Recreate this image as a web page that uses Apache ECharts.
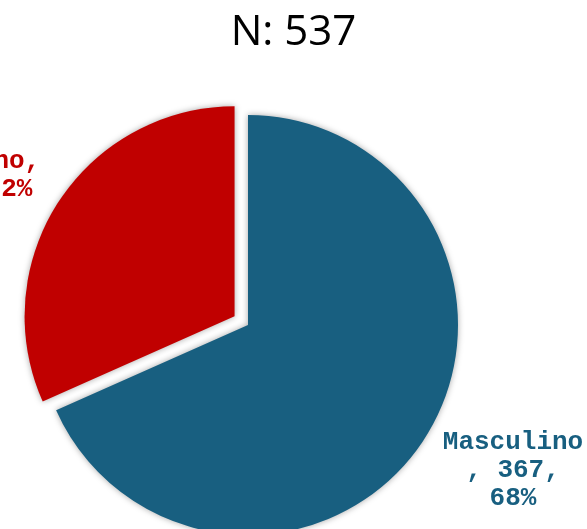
<!DOCTYPE html>
<html>
<head>
<meta charset="utf-8">
<script src="https://cdn.jsdelivr.net/npm/echarts@6/dist/echarts.min.js"></script>
<style>
  html, body { margin: 0; padding: 0; background: #fff; }
  #chart { width: 587px; height: 529px; }
</style>
</head>
<body>
<div id="chart"></div>
<script>
// datos
var categorias = ['Masculino', 'Femenino'];
var valores = [367, 170];
var colores = ['#185F80', '#C00000'];
var separado = [0, 16];           // desplazamiento de cada porción (px)
var posEtiqueta = [[513, 470], [-30, 175]];

var total = valores.reduce(function (a, b) { return a + b; }, 0);
var centro = [248, 325];

var chart = echarts.init(document.getElementById('chart'));

// una serie por porción, para poder separar la roja
var series = categorias.map(function (nombre, k) {
    var antes = 0;
    for (var j = 0; j < k; j++) antes += valores[j];
    var medio = (antes + valores[k] / 2) / total * 2 * Math.PI;
    var c = [
        centro[0] + Math.sin(medio) * separado[k],
        centro[1] - Math.cos(medio) * separado[k]
    ];
    return {
        type: 'pie',
        center: c,
        radius: 210,
        startAngle: 90,
        clockwise: true,
        avoidLabelOverlap: false,
        label: {
            position: 'outside',
            fontFamily: 'Liberation Mono',
            fontWeight: 'bold',
            fontSize: 26,
            lineHeight: 28,
            formatter: function (p) {
                var pct = Math.round(p.percent) + '%';
                if (p.dataIndex === 0) {
                    return p.name + '\n, ' + p.value + ',\n' + pct;
                }
                return p.name + ',\n' + p.value + ', ' + pct;
            }
        },
        labelLine: { show: false },
        labelLayout: function (params) {
            var q = posEtiqueta[params.dataIndex];
            return { x: q[0], y: q[1], align: 'center', verticalAlign: 'middle' };
        },
        emphasis: { disabled: true },
        data: categorias.map(function (n, i) {
            var propio = i === k;
            return {
                name: n,
                value: valores[i],
                itemStyle: propio
                    ? { color: colores[i], shadowBlur: 6, shadowColor: 'rgba(0,0,0,0.35)' }
                    : { color: 'rgba(0,0,0,0)' },
                label: { show: propio, color: colores[i] }
            };
        })
    };
});

chart.setOption({
    animation: false,
    title: {
        text: 'N: ' + total,
        left: 'center',
        top: 7,
        textStyle: {
            fontFamily: 'Open Sans',
            fontWeight: 'normal',
            fontSize: 42,
            color: '#000'
        }
    },
    series: series
});
</script>
</body>
</html>
